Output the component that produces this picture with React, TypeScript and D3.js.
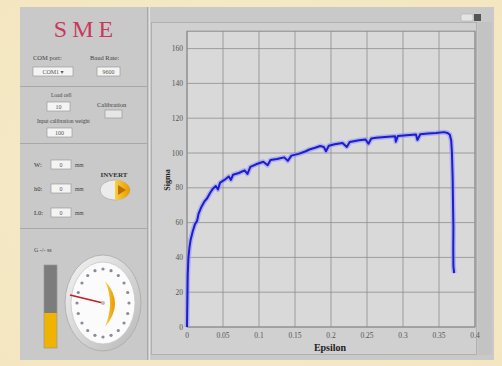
import React from 'react';
import * as d3 from 'd3';

// strain / stress readings
const epsilon = [
  0, 0.0005, 0.001, 0.002, 0.0035, 0.005, 0.008, 0.011, 0.014, 0.016, 0.02, 0.024, 0.028, 0.032, 0.036,
  0.04, 0.043, 0.046, 0.052, 0.058, 0.061, 0.064, 0.072, 0.08, 0.084, 0.088, 0.096, 0.106, 0.112, 0.116,
  0.125, 0.135, 0.14, 0.145, 0.155, 0.165, 0.17, 0.178, 0.185, 0.19, 0.193, 0.197, 0.205, 0.216, 0.222,
  0.226, 0.239, 0.248, 0.252, 0.256, 0.2625, 0.275, 0.289, 0.29, 0.293, 0.305, 0.318, 0.32, 0.324, 0.335,
  0.346, 0.357, 0.362, 0.365, 0.367, 0.368, 0.369, 0.3695, 0.37, 0.3698, 0.37, 0.371
];
const sigma = [
  0, 15, 30, 40, 46, 50, 55, 59, 61, 65, 69, 72, 74, 77, 79.5,
  81, 79, 83, 84.5, 86.5, 84.5, 87.5, 88.5, 90, 88, 92, 93.5, 95, 93, 96,
  96.5, 97.5, 95.5, 98.5, 99.5, 101, 102, 103, 104, 103.5, 101, 104.2, 105, 105.8, 103.5,
  106.3, 107.3, 107.8, 105.3, 108.3, 108.7, 109.2, 109.6, 106.5, 109.8, 110.2, 110.6, 107.5, 110.8, 111.2,
  111.5, 112, 111.5, 110.5, 107, 100, 85, 70, 57, 45, 35, 31
];

const yTicks = [0, 20, 40, 60, 80, 100, 120, 140, 160];
const xTicks = [0, 0.05, 0.1, 0.15, 0.2, 0.25, 0.3, 0.35, 0.4];
const xTickLabels = ['0', '0.05', '0.1', '0.15', '0.2', '0.25', '0.3', '0.35', '0.4'];

const serif = '"Liberation Serif", "DejaVu Serif", serif';

export default function App() {
  const x = d3.scaleLinear().domain([0, 0.4]).range([187, 475]);
  const y = d3.scaleLinear().domain([0, 170]).range([327, 31.2]);

  const pts = epsilon.map((e, i) => [e, sigma[i]] as [number, number]);
  const line = d3.line<[number, number]>().x(d => x(d[0])).y(d => y(d[1]));
  const path = line(pts) || '';

  // dial decoration
  const cx = 103, cy = 303;
  const dots = d3.range(20).map(i => (i / 20) * Math.PI * 2);

  const field = (bx: number, by: number, w: number, txt: string) => (
    <g>
      <rect x={bx} y={by} width={w} height={9} fill="#f4f4f4" stroke="#9a9a9a" strokeWidth={0.7} />
      <text x={bx + w / 2} y={by + 7} fontSize={6} textAnchor="middle" fill="#555">{txt}</text>
    </g>
  );

  return (
    <svg width={502} height={366} style={{ position: 'absolute', left: 0, top: 0 }} fontFamily={serif}>
      <defs>
        <radialGradient id="cream" cx="50%" cy="50%" r="70%">
          <stop offset="0%" stopColor="#f8efd0" />
          <stop offset="100%" stopColor="#f3e6c0" />
        </radialGradient>
        <linearGradient id="ring" x1="0" y1="0" x2="1" y2="1">
          <stop offset="0%" stopColor="#f4f4f4" />
          <stop offset="100%" stopColor="#b8b8b8" />
        </linearGradient>
        <linearGradient id="yel" x1="0" y1="0" x2="1" y2="0">
          <stop offset="0%" stopColor="#f7d040" />
          <stop offset="100%" stopColor="#e89a00" />
        </linearGradient>
      </defs>

      <rect x={0} y={0} width={502} height={366} fill="url(#cream)" />

      {/* outer panel */}
      <rect x={20} y={7} width={474} height={353} fill="#c9c9c9" />
      <line x1={147.5} y1={7} x2={147.5} y2={360} stroke="#a8a8a8" />
      <line x1={149.5} y1={7} x2={149.5} y2={360} stroke="#e2e2e2" />

      {/* left panel */}
      <text x={86} y={37} fontSize={24} fill="#c8385a" textAnchor="middle" letterSpacing={5}>SME</text>
      <text x={33} y={60} fontSize={6.5} fill="#444">COM port:</text>
      <text x={90} y={60} fontSize={6.5} fill="#444">Baud Rate:</text>
      {field(33, 67, 40, 'COM1  ▾')}
      {field(97, 67, 23, '9600')}
      <line x1={20} y1={86.5} x2={147} y2={86.5} stroke="#a8a8a8" />
      <text x={51} y={97} fontSize={5.5} fill="#444">Load cell</text>
      {field(47, 102, 23, '10')}
      <text x={97} y={107} fontSize={6.5} fill="#444">Calibration</text>
      <rect x={105} y={110} width={17} height={8} fill="#e6e6e6" stroke="#999" strokeWidth={0.7} />
      <text x={37} y={123} fontSize={5.5} fill="#444">Input calibration weight</text>
      {field(47, 128, 25, '100')}
      <line x1={20} y1={143.5} x2={147} y2={143.5} stroke="#a8a8a8" />

      {[['W:', 160], ['h0:', 184], ['L0:', 208]].map(([lab, by]) => (
        <g key={lab as string}>
          <text x={34} y={(by as number) + 7} fontSize={6.5} fill="#333">{lab}</text>
          {field(51, by as number, 20, '0')}
          <text x={75} y={(by as number) + 7} fontSize={5.5} fill="#444">mm</text>
        </g>
      ))}
      <text x={114} y={177} fontSize={7} fontWeight="bold" fill="#333" textAnchor="middle">INVERT</text>
      <ellipse cx={115} cy={190} rx={15} ry={10} fill="#ececec" stroke="#aaa" strokeWidth={0.7} />
      <path d="M115,180 A15,10 0 0 1 115,200 Z" fill="url(#yel)" />
      <path d="M118,185 L126,190 L118,195 Z" fill="#c07000" />
      <line x1={20} y1={228.5} x2={147} y2={228.5} stroke="#a8a8a8" />

      {/* tank + dial */}
      <text x={34} y={252} fontSize={6} fill="#444">G  -/-  ss</text>
      <rect x={44} y={265} width={13} height={48} fill="#7c7c7c" />
      <rect x={44} y={313} width={13} height={35} fill="#f0b400" />
      <rect x={44} y={265} width={13} height={83} fill="none" stroke="#999" strokeWidth={0.7} />
      <ellipse cx={cx} cy={cy} rx={38} ry={48} fill="url(#ring)" stroke="#aaa" strokeWidth={0.8} />
      <ellipse cx={cx} cy={cy} rx={32} ry={41} fill="#fbfbfb" stroke="#c8c8c8" strokeWidth={0.8} />
      {dots.map((a, i) => (
        <circle key={i} cx={cx + Math.cos(a) * 26} cy={cy + Math.sin(a) * 34} r={1.6} fill="#8a8a9a" />
      ))}
      <path d={`M${cx + 2},${cy - 22} Q${cx + 22},${cy} ${cx + 2},${cy + 24} Q${cx + 12},${cy} ${cx + 2},${cy - 22} Z`} fill="url(#yel)" />
      <line x1={cx} y1={cy} x2={cx - 33} y2={cy - 8} stroke="#c02020" strokeWidth={1.6} />
      <circle cx={cx} cy={cy} r={2} fill="#bbb" />

      {/* chart frame */}
      <rect x={151.5} y={22.5} width={325} height={332} fill="#d0d0d0" stroke="#b0b0b0" />
      <rect x={478} y={22} width={14} height={333} fill="#c3c3c3" />
      <rect x={461} y={14} width={12} height={7} rx={2} fill="#e4e4e4" stroke="#aaa" strokeWidth={0.5} />
      <rect x={474} y={14} width={7} height={7} fill="#555" />

      {/* plot area */}
      <rect x={187} y={31.2} width={288} height={295.8} fill="#d9d9d9" stroke="#8a8a8a" />
      {xTicks.map(t => (
        <line key={'gx' + t} x1={x(t)} x2={x(t)} y1={31.2} y2={327} stroke="#8e8e8e" strokeWidth={0.8} />
      ))}
      {yTicks.map(t => (
        <line key={'gy' + t} x1={187} x2={475} y1={y(t)} y2={y(t)} stroke="#8e8e8e" strokeWidth={0.8} />
      ))}
      {yTicks.map(t => (
        <text key={'ty' + t} x={183} y={y(t) + 2.5} fontSize={7.5} textAnchor="end" fill="#555">{t}</text>
      ))}
      {xTicks.map((t, i) => (
        <text key={'tx' + t} x={x(t)} y={338} fontSize={7.5} textAnchor="middle" fill="#555">{xTickLabels[i]}</text>
      ))}
      <text x={330} y={351} fontSize={10} fontWeight="bold" textAnchor="middle" fill="#222">Epsilon</text>
      <text transform="translate(170,180) rotate(-90)" fontSize={8} fontWeight="bold" textAnchor="middle" fill="#222">Sigma</text>

      {/* curve */}
      <path d={path} fill="none" stroke="#8f8ff5" strokeWidth={5} strokeOpacity={0.55} strokeLinejoin="round" />
      <path d={path} fill="none" stroke="#1c1cd0" strokeWidth={2} strokeLinejoin="round" />
    </svg>
  );
}
